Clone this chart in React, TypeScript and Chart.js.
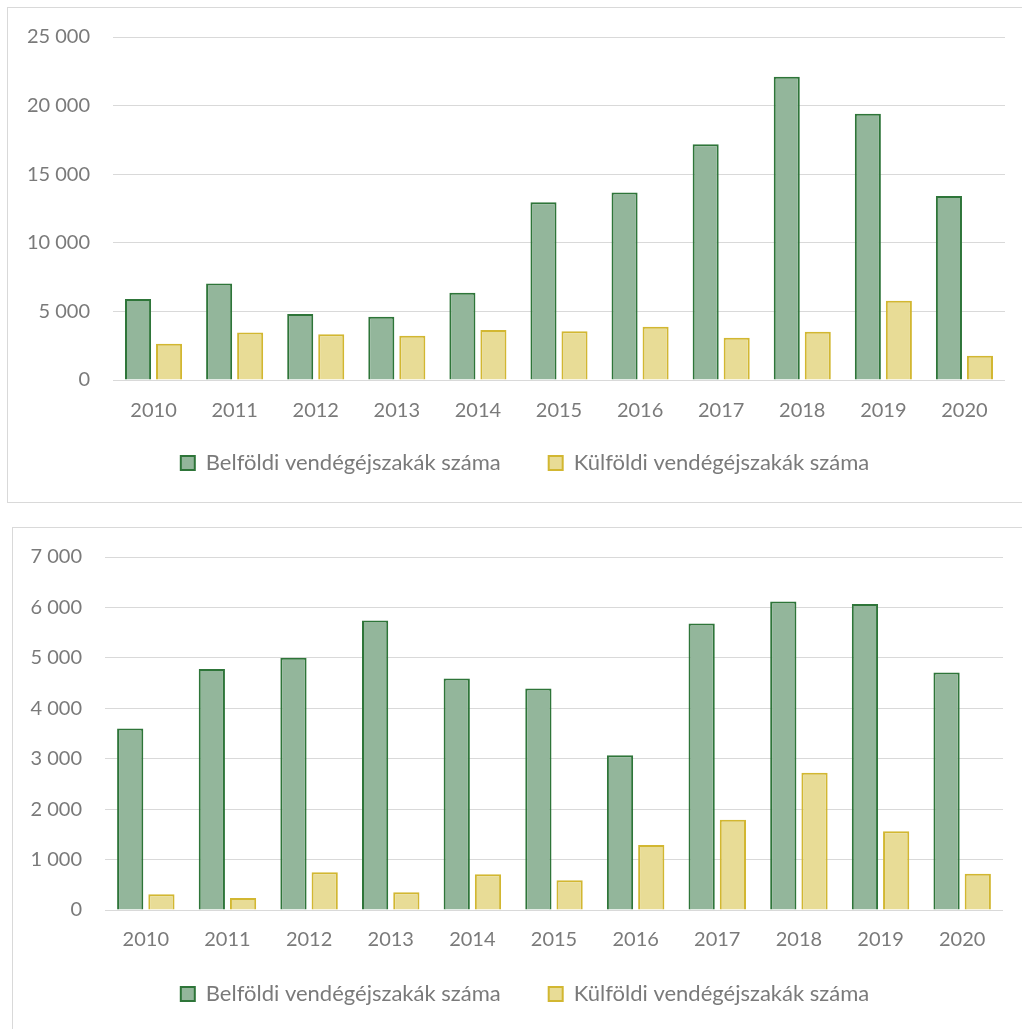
import React, { useEffect, useRef } from 'react';
import { Chart, registerables } from 'chart.js';

Chart.register(...registerables);

const categories = ['2010', '2011', '2012', '2013', '2014', '2015', '2016', '2017', '2018', '2019', '2020'];
const seriesLabels = ['Belföldi vendégéjszakák száma', 'Külföldi vendégéjszakák száma'];

// Top chart
const domesticTop = [5900, 7040, 4810, 4610, 6360, 12960, 13670, 17190, 22100, 19400, 13410];
const foreignTop = [2640, 3470, 3330, 3230, 3640, 3550, 3880, 3080, 3520, 5780, 1770];
const topYMax = 25000;
const topYStep = 5000;

// Bottom chart
const domesticBottom = [3600, 4780, 5000, 5740, 4590, 4390, 3070, 5680, 6120, 6070, 4710];
const foreignBottom = [310, 240, 750, 350, 710, 590, 1290, 1790, 2720, 1560, 720];
const bottomYMax = 7000;
const bottomYStep = 1000;

const GREEN_FILL = '#93b69b';
const GREEN_BORDER = '#2e7539';
const YELLOW_FILL = '#e8dc96';
const YELLOW_BORDER = '#d2b731';
const TEXT = '#7a7a7a';
const GRID = '#d9d9d9';
const FONT = 'Lato';

function formatThousands(v: number): string {
  const s = Math.round(v).toString();
  return s.replace(/\B(?=(\d{3})+(?!\d))/g, ' ');
}

type BoxProps = {
  left: number;
  top: number;
  width: number;
  height: number;
  domestic: number[];
  foreign: number[];
  yMax: number;
  yStep: number;
  pad: { left: number; right: number; top: number; bottom: number };
  yAxisWidth: number;
  xAxisHeight: number;
  xTickPad: number;
  yTickPad: number;
  legendPad: number;
  legendTop: number;
  legendShift: number;
};

function BarChart(props: BoxProps) {
  const ref = useRef<HTMLCanvasElement | null>(null);
  useEffect(() => {
    if (!ref.current) return;
    const legendPlace = {
      id: 'legendPlace',
      afterLayout(chart: any) {
        const lg = chart.legend;
        if (!lg) return;
        lg.top = props.legendTop;
        lg.height = 90;
        lg.bottom = props.legendTop + 90;
        lg.left += props.legendShift;
        lg.right += props.legendShift;
      },
    };
    const chart = new Chart(ref.current, {
      type: 'bar',
      data: {
        labels: categories,
        datasets: [
          {
            label: seriesLabels[0],
            data: props.domestic,
            backgroundColor: GREEN_FILL,
            borderColor: GREEN_BORDER,
            borderWidth: 2,
            categoryPercentage: 0.765,
            barPercentage: 0.84,
          },
          {
            label: seriesLabels[1],
            data: props.foreign,
            backgroundColor: YELLOW_FILL,
            borderColor: YELLOW_BORDER,
            borderWidth: 2,
            categoryPercentage: 0.765,
            barPercentage: 0.84,
          },
        ],
      },
      options: {
        responsive: false,
        animation: false,
        devicePixelRatio: 1,
        layout: { padding: props.pad },
        plugins: {
          tooltip: { enabled: false },
          legend: {
            position: 'bottom',
            maxHeight: 40,
            labels: {
              color: TEXT,
              font: { family: FONT, size: 22 },
              boxWidth: 14,
              boxHeight: 14,
              padding: props.legendPad,
            },
          },
        },
        scales: {
          x: {
            grid: { display: false, drawTicks: false },
            border: { display: false },
            ticks: {
              color: TEXT,
              font: { family: FONT, size: 20 },
              padding: props.xTickPad,
              maxRotation: 0,
            },
            afterFit: (scale: any) => {
              scale.height = props.xAxisHeight;
            },
          },
          y: {
            min: 0,
            max: props.yMax,
            grid: { color: GRID, lineWidth: 1, drawTicks: false },
            border: { display: false },
            ticks: {
              stepSize: props.yStep,
              color: TEXT,
              font: { family: FONT, size: 20, lineHeight: 0.6 },
              padding: props.yTickPad,
              callback: (v: any) => formatThousands(Number(v)),
            },
            afterFit: (scale: any) => {
              scale.width = props.yAxisWidth;
            },
          },
        },
      },
      plugins: [legendPlace],
    } as any);
    return () => chart.destroy();
  }, []);
  return (
    <canvas
      ref={ref}
      width={props.width}
      height={props.height}
      style={{
        position: 'absolute',
        left: props.left,
        top: props.top,
        width: props.width,
        height: props.height,
      }}
    />
  );
}

export default function App() {
  return (
    <div>
      <div
        style={{
          position: 'absolute',
          left: 7,
          top: 7,
          width: 1014,
          height: 494,
          borderTop: `1px solid ${GRID}`,
          borderLeft: `1px solid ${GRID}`,
          borderBottom: `1px solid ${GRID}`,
          background: '#fff',
        }}
      />
      <div
        style={{
          position: 'absolute',
          left: 12,
          top: 527,
          width: 1009,
          height: 501,
          borderTop: `1px solid ${GRID}`,
          borderLeft: `1px solid ${GRID}`,
          background: '#fff',
        }}
      />
      <BarChart
        left={8}
        top={8}
        width={1010}
        height={494}
        domestic={domesticTop}
        foreign={foreignTop}
        yMax={topYMax}
        yStep={topYStep}
        pad={{ left: 0, right: 13, top: 29, bottom: 27 }}
        yAxisWidth={105}
        xAxisHeight={55}
        xTickPad={19}
        yTickPad={23}
        legendPad={48}
        legendTop={396}
        legendShift={18.5}
      />
      <BarChart
        left={13}
        top={528}
        width={1009}
        height={501}
        domestic={domesticBottom}
        foreign={foreignBottom}
        yMax={bottomYMax}
        yStep={bottomYStep}
        pad={{ left: 0, right: 19, top: 29, bottom: 24 }}
        yAxisWidth={92}
        xAxisHeight={55}
        xTickPad={18}
        yTickPad={23}
        legendPad={48}
        legendTop={407}
        legendShift={17}
      />
    </div>
  );
}
